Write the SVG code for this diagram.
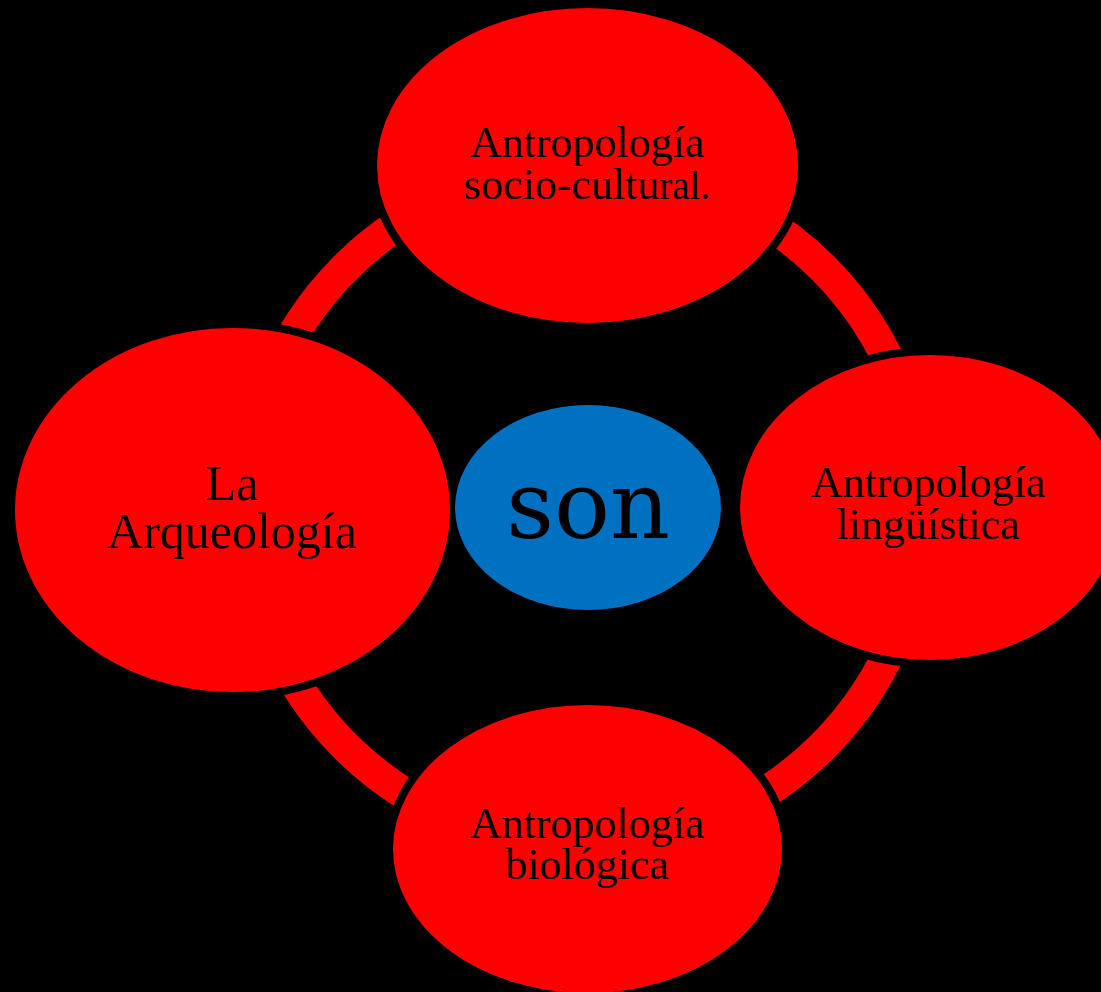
<svg xmlns="http://www.w3.org/2000/svg" width="1101" height="992" viewBox="0 0 1101 992">
<style>
.bg{fill:#000}
.ring{fill:none;stroke:#FF0000;stroke-width:32}
.node{fill:#FF0000;stroke:#000;stroke-width:8}
.center{fill:#0070C0}
.lbl{font-family:"Liberation Serif","Times New Roman",serif;fill:#000;text-anchor:middle}
.son{font-family:"DejaVu Serif",serif;fill:#000;text-anchor:middle;font-size:93px}
</style>
<rect class="bg" x="0" y="0" width="1101" height="992"/>
<g id="connectors">
<path class="ring" d="M 584 169 A 338 338 0 0 1 922 507"/>
<path class="ring" d="M 922 507 A 338 338 0 0 1 584 845"/>
<path class="ring" d="M 584 845 A 338 338 0 0 1 246 507"/>
<path class="ring" d="M 246 507 A 338 338 0 0 1 584 169"/>
</g>
<g id="node-top">
<ellipse class="node" cx="587.5" cy="165.5" rx="214.5" ry="161.5"/>
<text class="lbl" font-size="44" x="587" y="157">Antropología</text>
<text class="lbl" font-size="44" x="587" y="199">socio-cultu<tspan font-size="39">ral.</tspan></text>
</g>
<g id="node-right">
<ellipse class="node" cx="930" cy="507.5" rx="194" ry="156.5"/>
<text class="lbl" font-size="44" x="928" y="497">Antropología</text>
<text class="lbl" font-size="44" x="928" y="539">lingüística</text>
</g>
<g id="node-bottom">
<ellipse class="node" cx="587.5" cy="849" rx="198.5" ry="148"/>
<text class="lbl" font-size="44" x="587" y="838">Antropología</text>
<text class="lbl" font-size="44" x="587" y="879">biológica</text>
</g>
<g id="node-left">
<ellipse class="node" cx="232.5" cy="510" rx="221.5" ry="186"/>
<text class="lbl" font-size="50" x="232" y="500">La</text>
<text class="lbl" font-size="50" x="232" y="548">Arqueología</text>
</g>
<g id="node-center">
<ellipse class="center" cx="588" cy="507.5" rx="133" ry="102.5"/>
<text class="son" x="588" y="538">son</text>
</g>
</svg>
